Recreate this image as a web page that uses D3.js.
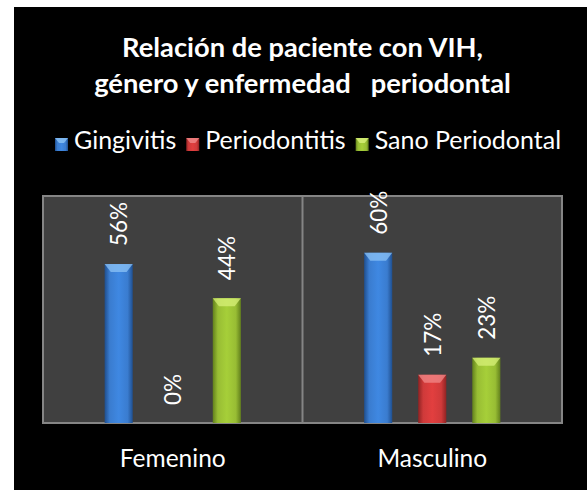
<!DOCTYPE html>
<html><head><meta charset="utf-8">
<script src="https://cdn.jsdelivr.net/npm/d3@7"></script>
<style>html,body{margin:0;padding:0;background:#fff;}svg{display:block;} text{white-space:pre;}</style>
</head><body>
<script>
const categories = ["Femenino", "Masculino"];
const seriesNames = ["Gingivitis", "Periodontitis", "Sano Periodontal"];
const gingivitis = [0.56, 0.60];
const periodontitis = [0.00, 0.17];
const sanoPeriodontal = [0.44, 0.23];
const titleLines = ["Relación de paciente con VIH,", "género y enfermedad   periodontal"];
const seriesValues = [gingivitis, periodontitis, sanoPeriodontal];
const colors = ["#3a7ccf", "#cf3a3a", "#98bd34"];
const darkC = ["#1f4f8f", "#8f2323", "#62801c"];
const lightC = ["#8cc3f5", "#f08a8a", "#d8f07a"];

const W = 587, H = 490;
const font = "Lato, 'Open Sans', sans-serif";
const svg = d3.select("body").append("svg").attr("width", W).attr("height", H);
svg.append("rect").attr("x", 14).attr("y", 7).attr("width", W - 14).attr("height", H - 7).attr("fill", "#000");

const defs = svg.append("defs");
seriesNames.forEach((s, i) => {
  const g = defs.append("linearGradient").attr("id", "bg" + i).attr("x1", 0).attr("x2", 1).attr("y1", 0).attr("y2", 0);
  g.append("stop").attr("offset", "0%").attr("stop-color", darkC[i]);
  g.append("stop").attr("offset", "18%").attr("stop-color", colors[i]);
  g.append("stop").attr("offset", "50%").attr("stop-color", d3.color(colors[i]).brighter(0.25));
  g.append("stop").attr("offset", "82%").attr("stop-color", colors[i]);
  g.append("stop").attr("offset", "100%").attr("stop-color", darkC[i]);
});

const plot = {l: 43, r: 562, t: 196, b: 423};
const x0 = d3.scaleBand().domain(categories).range([plot.l, plot.r]).paddingInner(0).paddingOuter(0);
const x1 = d3.scaleBand().domain(seriesNames).range([0, x0.bandwidth()]).paddingInner(0.48).paddingOuter(1.14);
const y = d3.scaleLinear().domain([0, 0.8]).range([plot.b, plot.t]);

svg.append("rect").attr("x", plot.l).attr("y", plot.t).attr("width", plot.r - plot.l).attr("height", plot.b - plot.t)
  .attr("fill", "#404040").attr("stroke", "#858585").attr("stroke-width", 2);
categories.slice(1).forEach(c => {
  svg.append("line").attr("x1", x0(c)).attr("x2", x0(c)).attr("y1", plot.t).attr("y2", plot.b)
    .attr("stroke", "#858585").attr("stroke-width", 2);
});

// title
svg.append("g").selectAll("text").data(titleLines).join("text")
  .attr("x", 302.5).attr("y", (d, i) => 57 + i * 36)
  .attr("text-anchor", "middle").attr("fill", "#fff").attr("font-family", font)
  .attr("font-weight", "bold").attr("font-size", 27.3).text(d => d);

// legend
const leg = svg.append("g");
const legFont = 25;
let lx = 55;
seriesNames.forEach((s, i) => {
  const g = leg.append("g");
  g.append("rect").attr("x", lx).attr("y", 138).attr("width", 13).attr("height", 13).attr("fill", "url(#bg" + i + ")");
  g.append("path").attr("d", `M${lx},138 h13 l-4,5 h-5 z`).attr("fill", lightC[i]).attr("opacity", 0.8);
  const t = g.append("text").attr("x", lx + 19).attr("y", 149).attr("fill", "#fff").attr("font-family", font)
    .attr("font-size", legFont).text(s);
  lx += 19 + t.node().getComputedTextLength() + 10;
});

// bars
const groups = svg.append("g").selectAll("g").data(categories).join("g")
  .attr("transform", d => `translate(${x0(d)},0)`);
groups.each(function (cat, ci) {
  const g = d3.select(this);
  seriesNames.forEach((s, si) => {
    const v = seriesValues[si][ci];
    const bx = x1(s), bw = x1.bandwidth();
    if (v > 0) {
      g.append("rect").attr("x", bx).attr("y", y(v)).attr("width", bw).attr("height", y(0) - y(v))
        .attr("fill", "url(#bg" + si + ")");
      g.append("path")
        .attr("d", `M${bx},${y(v)} L${bx + bw},${y(v)} L${bx + bw * 0.78},${y(v) + 8} L${bx + bw * 0.22},${y(v) + 8} Z`)
        .attr("fill", lightC[si]).attr("opacity", 0.75);
    }
    g.append("text")
      .attr("transform", `translate(${bx + bw / 2},${y(v) - 18}) rotate(-90)`)
      .attr("dominant-baseline", "central").attr("text-anchor", "start")
      .attr("fill", "#fff").attr("font-family", font).attr("font-size", 22.5)
      .text(Math.round(v * 100) + "%");
  });
});

// category axis labels
svg.append("g").selectAll("text").data(categories).join("text")
  .attr("x", d => x0(d) + x0.bandwidth() / 2).attr("y", 467)
  .attr("text-anchor", "middle").attr("fill", "#fff").attr("font-family", font).attr("font-size", 24.5)
  .text(d => d);
</script>
</body></html>
